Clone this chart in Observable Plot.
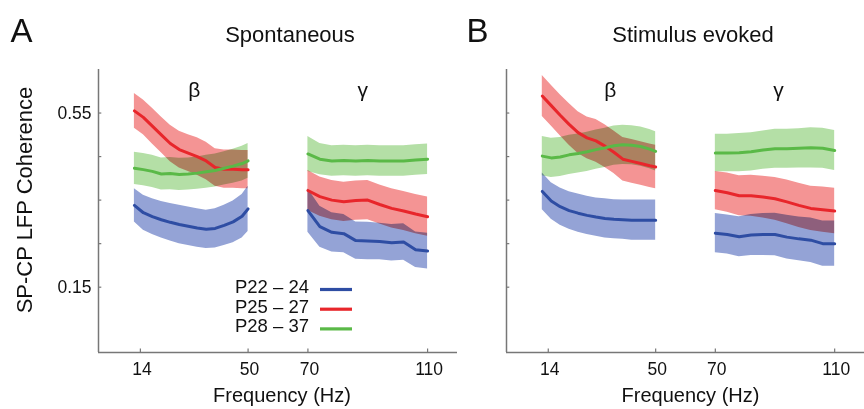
<!DOCTYPE html>
<html>
<head>
<meta charset="utf-8">
<script src="https://cdn.jsdelivr.net/npm/d3@7"></script>
<script src="https://cdn.jsdelivr.net/npm/@observablehq/plot@0.6"></script>
<style>
  html, body { margin: 0; padding: 0; background: #fff; }
  #wrap { display: flex; flex-direction: row; width: 864px; height: 409px; overflow: hidden; }
  #wrap svg { display: block; }
</style>
</head>
<body>
<div id="wrap"></div>
<script>
// ---- data ----
const betaHz = [12, 15, 18, 21, 24, 27, 30, 33, 36, 39, 42, 45, 48, 50];
const gammaHz = [70, 74, 78, 82, 86, 90, 94, 98, 102, 106, 110];
const cohorts = ["P22 – 24", "P25 – 27", "P28 – 37"];
const xTicks = [14, 50, 70, 110];
const yTicks = [0.15, 0.25, 0.35, 0.45, 0.55];
const yLabelTicks = [0.15, 0.55];
const panelTitles = ["Spontaneous", "Stimulus evoked"];
const panelLetters = ["A", "B"];
const bandNames = ["β", "γ"];

// Spontaneous, beta (rows: P22-24, P25-27, P28-37)
const spontBetaMean = [
  [0.338, 0.321, 0.312, 0.305, 0.299, 0.294, 0.290, 0.286, 0.283, 0.285, 0.292, 0.300, 0.313, 0.330],
  [0.555, 0.540, 0.520, 0.500, 0.480, 0.466, 0.458, 0.450, 0.440, 0.425, 0.421, 0.421, 0.420, 0.420],
  [0.423, 0.420, 0.416, 0.410, 0.411, 0.409, 0.410, 0.412, 0.415, 0.418, 0.423, 0.428, 0.434, 0.440]
];
const spontBetaErr = [
  [0.038, 0.040, 0.041, 0.042, 0.043, 0.044, 0.044, 0.044, 0.044, 0.045, 0.046, 0.048, 0.050, 0.052],
  [0.040, 0.040, 0.041, 0.041, 0.042, 0.042, 0.042, 0.043, 0.043, 0.043, 0.044, 0.044, 0.044, 0.044],
  [0.037, 0.037, 0.037, 0.037, 0.037, 0.037, 0.037, 0.037, 0.038, 0.038, 0.038, 0.039, 0.040, 0.040]
];
// Spontaneous, gamma
const spontGammaMean = [
  [0.326, 0.289, 0.276, 0.273, 0.257, 0.256, 0.255, 0.252, 0.254, 0.236, 0.233],
  [0.372, 0.358, 0.350, 0.346, 0.349, 0.350, 0.340, 0.331, 0.325, 0.318, 0.312],
  [0.456, 0.444, 0.440, 0.441, 0.440, 0.441, 0.440, 0.440, 0.440, 0.442, 0.444]
];
const spontGammaErr = [
  [0.050, 0.047, 0.045, 0.044, 0.043, 0.043, 0.042, 0.042, 0.042, 0.041, 0.041],
  [0.046, 0.045, 0.045, 0.045, 0.045, 0.045, 0.045, 0.045, 0.045, 0.045, 0.045],
  [0.040, 0.036, 0.035, 0.035, 0.035, 0.035, 0.035, 0.035, 0.035, 0.035, 0.035]
];
// Stimulus evoked, beta
const evokedBetaMean = [
  [0.370, 0.348, 0.335, 0.326, 0.320, 0.315, 0.311, 0.308, 0.306, 0.305, 0.304, 0.304, 0.304, 0.304],
  [0.589, 0.567, 0.545, 0.524, 0.505, 0.493, 0.486, 0.474, 0.460, 0.444, 0.439, 0.434, 0.429, 0.426],
  [0.451, 0.447, 0.449, 0.454, 0.457, 0.461, 0.466, 0.470, 0.475, 0.477, 0.476, 0.473, 0.467, 0.462]
];
const evokedBetaErr = [
  [0.042, 0.042, 0.043, 0.043, 0.044, 0.044, 0.044, 0.045, 0.045, 0.045, 0.046, 0.046, 0.046, 0.046],
  [0.047, 0.047, 0.047, 0.048, 0.048, 0.048, 0.049, 0.049, 0.049, 0.050, 0.050, 0.050, 0.050, 0.050],
  [0.045, 0.045, 0.045, 0.045, 0.045, 0.045, 0.045, 0.045, 0.045, 0.045, 0.045, 0.045, 0.045, 0.045]
];
// Stimulus evoked, gamma
const evokedGammaMean = [
  [0.274, 0.271, 0.266, 0.270, 0.271, 0.271, 0.265, 0.261, 0.258, 0.250, 0.250],
  [0.372, 0.367, 0.360, 0.360, 0.357, 0.353, 0.346, 0.338, 0.331, 0.328, 0.325],
  [0.458, 0.458, 0.459, 0.461, 0.465, 0.468, 0.468, 0.469, 0.470, 0.469, 0.464]
];
const evokedGammaErr = [
  [0.045, 0.045, 0.046, 0.047, 0.048, 0.049, 0.050, 0.050, 0.051, 0.052, 0.052],
  [0.044, 0.045, 0.046, 0.047, 0.048, 0.049, 0.050, 0.051, 0.051, 0.052, 0.052],
  [0.043, 0.043, 0.044, 0.044, 0.044, 0.045, 0.045, 0.045, 0.046, 0.046, 0.046]
];

// ---- styles ----
const lineColors = ["#2e4da3", "#e8262b", "#5ab947"];
const bandColors = ["#94a3d6", "#f49494", "#b4dfa6"];
const axisColor = "#777";
const font = "'Liberation Sans', Arial, Helvetica, sans-serif";

function rows(hz, means, errs, band) {
  const out = [];
  means.forEach((series, i) => {
    series.forEach((m, j) => {
      out.push({hz: hz[j], mean: m, lo: m - errs[i][j], hi: m + errs[i][j], cohort: cohorts[i], band});
    });
  });
  return out;
}

function legendMark(index, scales, values, dims) {
  const g = d3.create("svg:g").attr("font-family", font).attr("font-size", 18.5);
  cohorts.forEach((c, i) => {
    const by = 293 + i * 19.7;
    g.append("text").attr("x", 309).attr("y", by).attr("text-anchor", "end").attr("fill", "#111").text(c);
    g.append("line").attr("x1", 320).attr("x2", 352).attr("y1", by - 3.5).attr("y2", by - 3.5)
      .attr("stroke", lineColors[i]).attr("stroke-width", 3.2);
  });
  return g.node();
}

function panel({k, beta, gamma, showY, width, marginLeft, marginRight, greekHz, titleDx, freqDx}) {
  const data = beta.concat(gamma);
  const marks = [];
  cohorts.forEach((c, i) => {
    marks.push(Plot.areaY(data.filter(d => d.cohort === c), {
      x: "hz", y1: "lo", y2: "hi", z: "band", fill: bandColors[i], mixBlendMode: "multiply"
    }));
  });
  cohorts.forEach((c, i) => {
    marks.push(Plot.line(data.filter(d => d.cohort === c), {
      x: "hz", y: "mean", z: "band", stroke: lineColors[i], strokeWidth: 3
    }));
  });
  // axis lines
  marks.push(Plot.ruleX([0], {stroke: axisColor, strokeWidth: 1.5}));
  marks.push(Plot.ruleY([0], {stroke: axisColor, strokeWidth: 1.5}));
  // inward ticks
  marks.push(Plot.ruleY(yTicks, {y: d => d, x1: 0, x2: 1.1, stroke: axisColor, strokeWidth: 1.2}));
  marks.push(Plot.ruleX(xTicks, {x: d => d, y1: 0, y2: 0.008, stroke: axisColor, strokeWidth: 1.2}));
  // tick labels
  marks.push(Plot.axisX({ticks: xTicks, tickSize: 0, tickPadding: 10, fontSize: 17.5, dx: 1.5, label: null, fill: "#111"}));
  if (showY) {
    marks.push(Plot.axisY({ticks: yLabelTicks, tickSize: 0, tickPadding: 7, fontSize: 17.5, label: null,
      tickFormat: d3.format(".2f"), fill: "#111"}));
    marks.push(Plot.text(["SP-CP LFP Coherence"], {
      frameAnchor: "left", rotate: -90, dx: -74, dy: -11, lineAnchor: "middle", textAnchor: "middle",
      fontSize: 22, fill: "#111"
    }));
    marks.push(legendMark);
  }
  // x label
  marks.push(Plot.text(["Frequency (Hz)"], {
    frameAnchor: "bottom", dx: freqDx, dy: 49.7, lineAnchor: "bottom", fontSize: 20, fill: "#111"
  }));
  // panel letter and title
  marks.push(Plot.text([panelLetters[k]], {
    frameAnchor: "top-left", textAnchor: "start", dx: showY ? -88 : -40, dy: -28, lineAnchor: "bottom",
    fontSize: 33, fill: "#111"
  }));
  marks.push(Plot.text([panelTitles[k]], {
    frameAnchor: "top", dx: titleDx, dy: -27.3, lineAnchor: "bottom", fontSize: 22, fill: "#111"
  }));
  // band labels
  marks.push(Plot.text(bandNames, {
    x: (d, i) => greekHz[i], frameAnchor: "top", dy: 27, lineAnchor: "bottom", fontSize: 21, fill: "#111"
  }));

  return Plot.plot({
    width, height: 409,
    marginLeft, marginRight, marginTop: 69, marginBottom: 57,
    x: {domain: [0, 120], axis: null},
    y: {domain: [0, 0.65], axis: null},
    style: {fontFamily: font, background: "#fff", overflow: "visible"},
    marks
  });
}

const wrap = document.getElementById("wrap");
wrap.appendChild(panel({
  k: 0,
  beta: rows(betaHz, spontBetaMean, spontBetaErr, "beta"),
  gamma: rows(gammaHz, spontGammaMean, spontGammaErr, "gamma"),
  showY: true, width: 482, marginLeft: 98, marginRight: 25,
  greekHz: [32, 88.3], titleDx: 12, freqDx: 4
}));
wrap.appendChild(panel({
  k: 1,
  beta: rows(betaHz, evokedBetaMean, evokedBetaErr, "beta"),
  gamma: rows(gammaHz, evokedGammaMean, evokedGammaErr, "gamma"),
  showY: false, width: 382, marginLeft: 24, marginRight: 0,
  greekHz: [34.8, 91.2], titleDx: 7.5, freqDx: 5
}));
</script>
</body>
</html>
